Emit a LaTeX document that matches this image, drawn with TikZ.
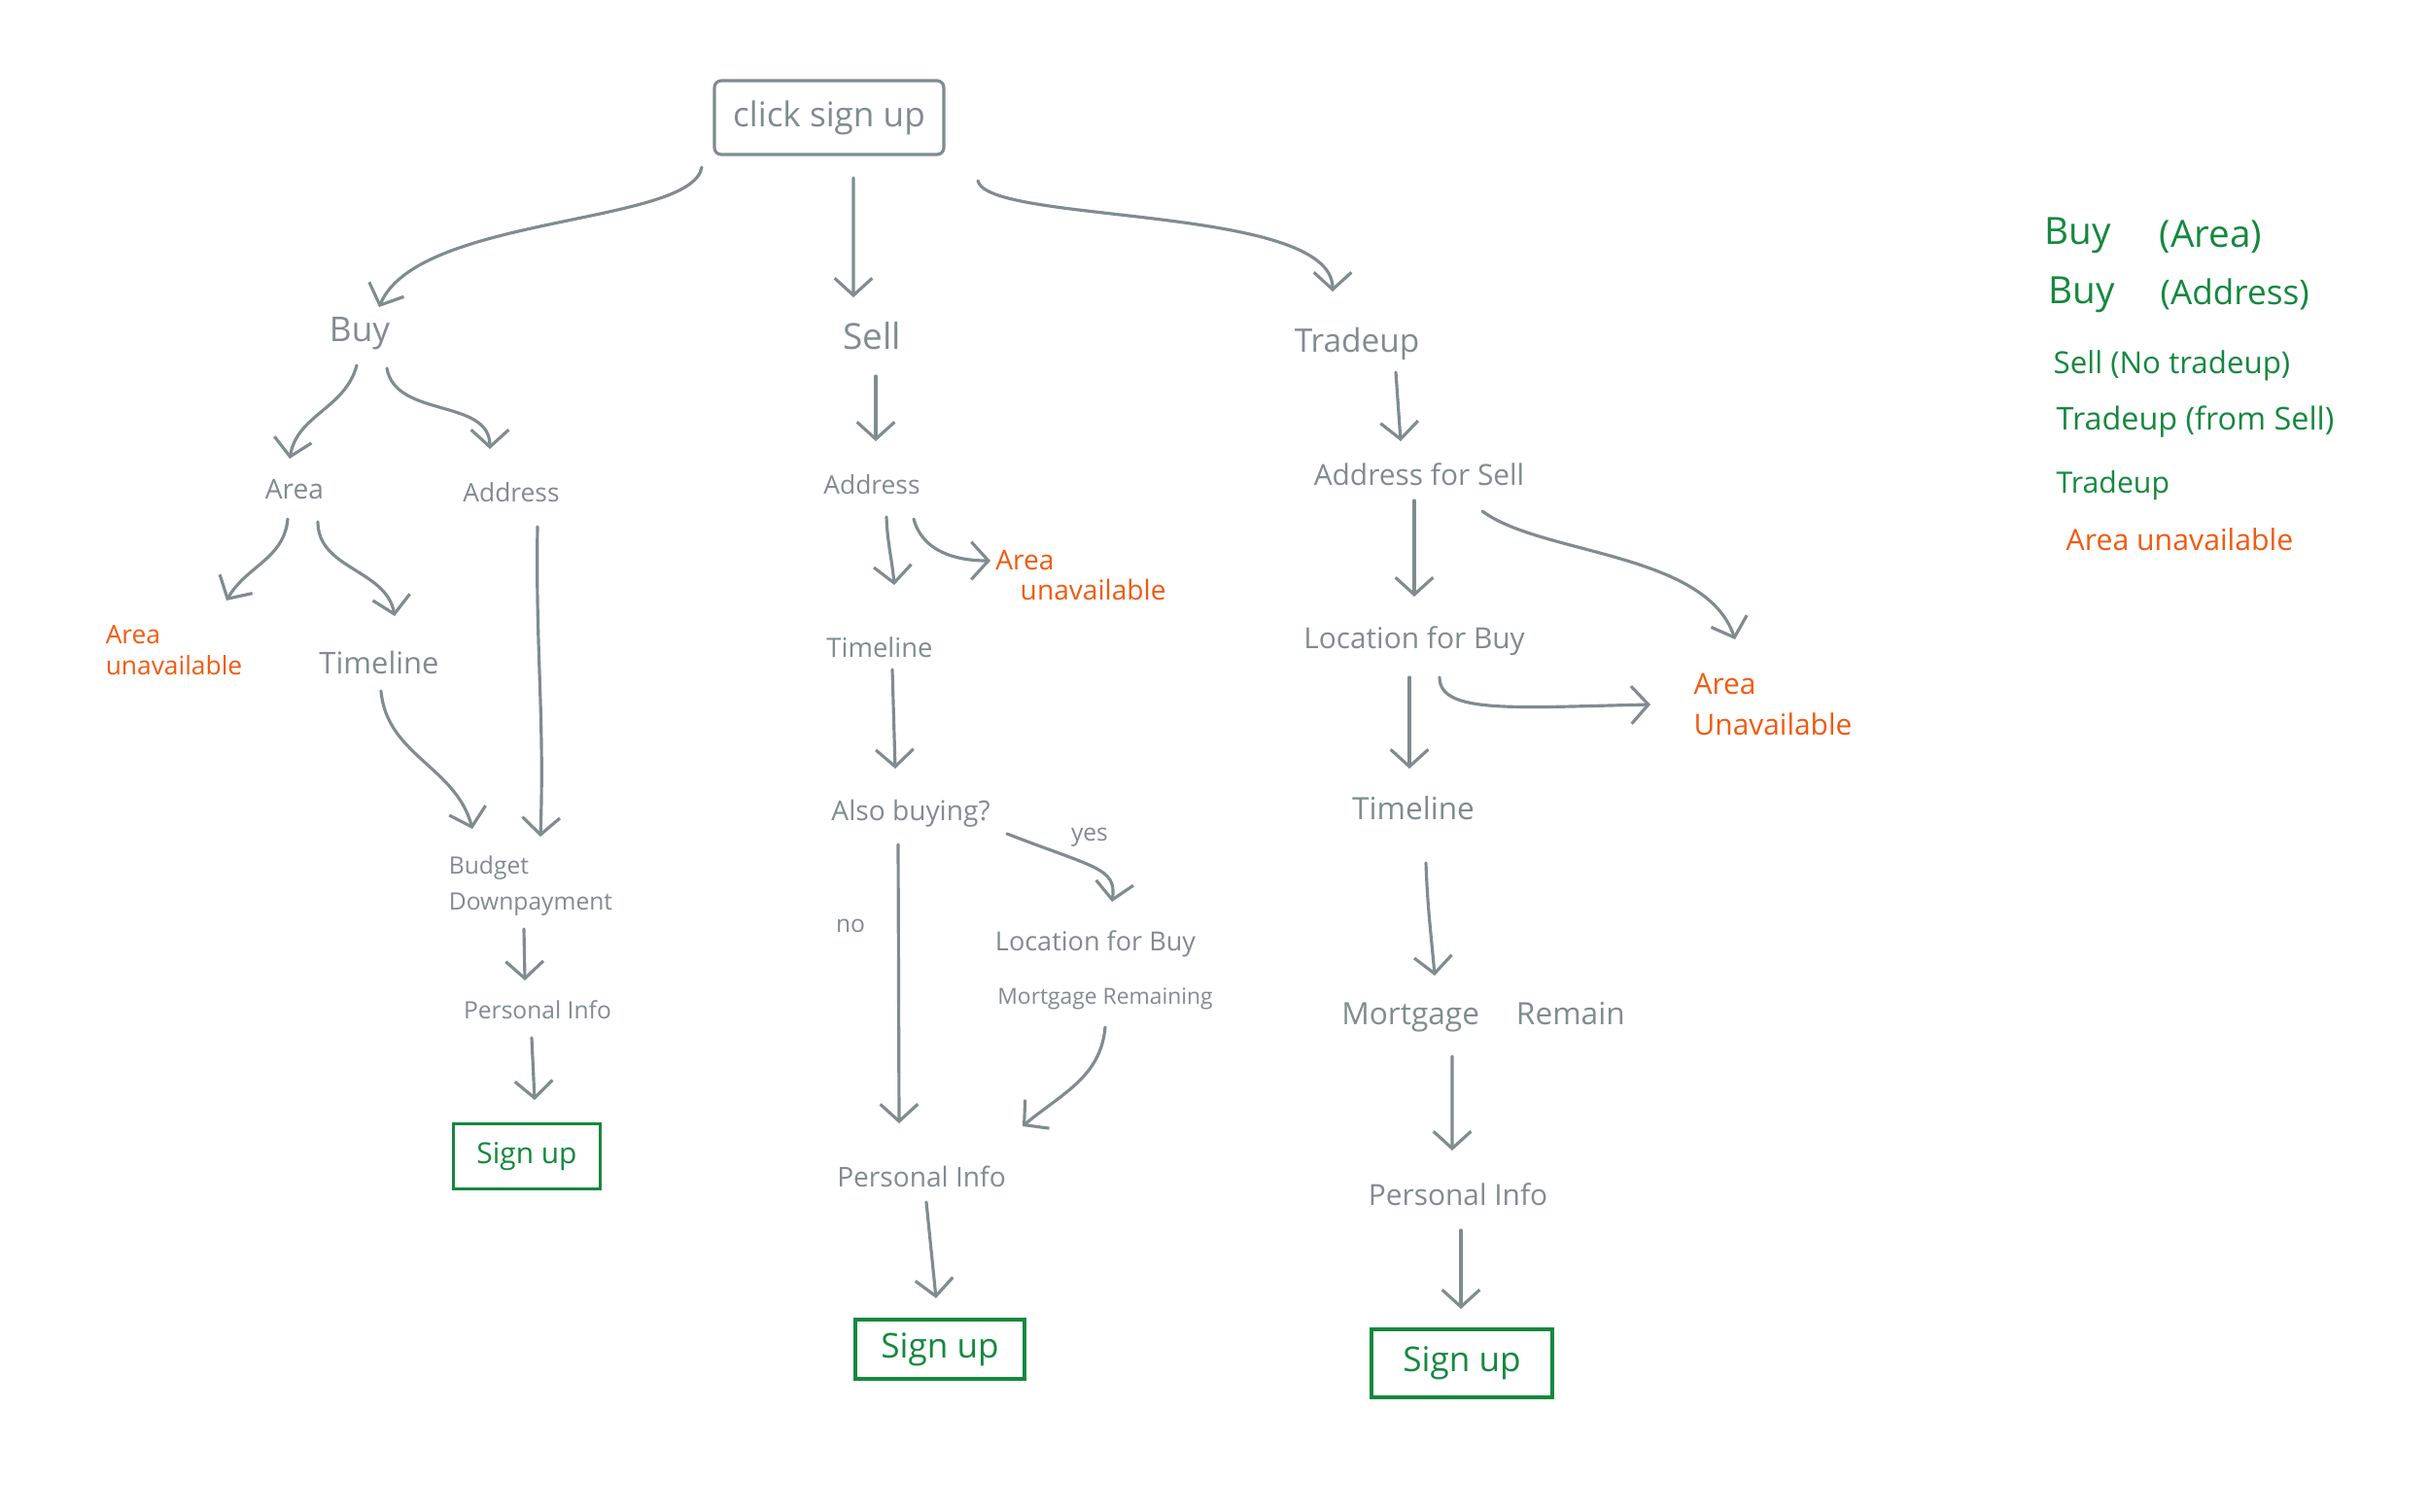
\documentclass[tikz,border=0pt]{standalone}
\usepackage{fontspec}
\setmainfont{Open Sans}
\usetikzlibrary{arrows.meta}
\definecolor{sk}{HTML}{7F8C90}
\definecolor{gr}{HTML}{15883E}
\definecolor{orn}{HTML}{F15A11}
\newcommand\fsz[2]{\fontsize{#1}{#2}\selectfont}
\begin{document}
\begin{tikzpicture}[x=1cm,y=1cm,
  lbl/.style={text=sk, inner sep=1pt},
  olbl/.style={text=orn, inner sep=0pt, align=left},
  glbl/.style={text=gr, inner sep=0pt, anchor=west},
  gbox/.style={draw=gr, text=gr, line width=1pt, inner sep=2pt},
  flow/.style={draw=sk, line width=0.9pt, line cap=round,
    -{Straight Barb[length=5pt,width=11pt]}}]
\fill[white] (0,0) rectangle (25,-15.55);
\useasboundingbox (0,0) rectangle (25,-15.55);

% top
\node[lbl, draw=sk, line width=0.9pt, rounded corners=2pt, minimum width=2.36cm, minimum height=0.76cm, font=\fsz{10pt}{12pt}] (top) at (8.53,-1.21) {click sign up};

% level 1
\node[lbl, font=\fsz{10pt}{12pt}] (buy) at (3.70,-3.43) {Buy};
\node[lbl, font=\fsz{10.5pt}{12pt}] (sell) at (8.97,-3.46) {Sell};
\node[lbl, font=\fsz{9.5pt}{12pt}] (trade) at (13.96,-3.54) {Tradeup};

% buy column
\node[lbl, font=\fsz{8pt}{10pt}] (area) at (3.03,-5.04) {Area};
\node[lbl, font=\fsz{7.5pt}{9pt}] (addr1) at (5.26,-5.07) {Address};
\node[olbl, font=\fsz{7.5pt}{9pt}] (unav1) at (1.79,-6.69) {Area\\unavailable};
\node[lbl, font=\fsz{8.8pt}{10pt}] (time1) at (3.90,-6.82) {Timeline};
\node[lbl, align=left, font=\fsz{7pt}{10.5pt}] (budget) at (5.46,-9.12) {Budget\\Downpayment};
\node[lbl, font=\fsz{7pt}{9pt}] (pers1) at (5.53,-10.39) {Personal Info};
\node[gbox, minimum width=1.51cm, minimum height=0.67cm, font=\fsz{8.5pt}{10pt}] (sign1) at (5.42,-11.90) {Sign up};

% sell column
\node[lbl, font=\fsz{7.5pt}{9pt}] (addr2) at (8.97,-4.99) {Address};
\node[olbl, font=\fsz{8pt}{9pt}] (unav2) at (11.12,-5.92) {Area\\\hspace*{0.9em}unavailable};
\node[lbl, font=\fsz{7.8pt}{9pt}] (time2) at (9.05,-6.66) {Timeline};
\node[lbl, font=\fsz{8pt}{10pt}] (also) at (9.37,-8.37) {Also buying?};
\node[lbl, font=\fsz{7pt}{9pt}] (yes) at (11.21,-8.62) {yes};
\node[lbl, font=\fsz{7pt}{9pt}] (no) at (8.75,-9.53) {no};
\node[lbl, font=\fsz{7.7pt}{9pt}] (loc2) at (11.27,-9.71) {Location for Buy};
\node[lbl, font=\fsz{6.5pt}{8pt}] (mort2) at (11.37,-10.28) {Mortgage Remaining};
\node[lbl, font=\fsz{8pt}{10pt}] (pers2) at (9.48,-12.11) {Personal Info};
\node[gbox, minimum width=1.74cm, minimum height=0.61cm, font=\fsz{10pt}{12pt}] (sign2) at (9.67,-13.885) {Sign up};

% tradeup column
\node[lbl, font=\fsz{8.5pt}{10pt}] (addrsell) at (14.60,-4.88) {Address for Sell};
\node[lbl, font=\fsz{8.5pt}{10pt}] (loc3) at (14.55,-6.60) {Location for Buy};
\node[olbl, font=\fsz{8.5pt}{12pt}] (unav3) at (18.24,-7.25) {Area\\Unavailable};
\node[lbl, font=\fsz{9pt}{10pt}] (time3) at (14.54,-8.32) {Timeline};
\node[lbl, font=\fsz{9pt}{10pt}] (mort3) at (15.26,-10.47) {Mortgage\hspace{1.2em}Remain};
\node[lbl, font=\fsz{8.5pt}{10pt}] (pers3) at (15.00,-12.29) {Personal Info};
\node[gbox, minimum width=1.86cm, minimum height=0.70cm, font=\fsz{10pt}{12pt}] (sign3) at (15.04,-14.03) {Sign up};

% legend
\node[glbl, font=\fsz{11pt}{13pt}] (lg1a) at (21.03,-2.42) {Buy};
\node[glbl, font=\fsz{11pt}{13pt}] (lg1b) at (22.21,-2.44) {(Area)};
\node[glbl, font=\fsz{11pt}{13pt}] (lg2a) at (21.07,-3.03) {Buy};
\node[glbl, font=\fsz{10pt}{13pt}] (lg2b) at (22.22,-3.03) {(Address)};
\node[glbl, font=\fsz{8.9pt}{11pt}] (lg3) at (21.12,-3.76) {Sell (No tradeup)};
\node[glbl, font=\fsz{9.2pt}{11pt}] (lg4) at (21.15,-4.34) {Tradeup (from Sell)};
\node[glbl, font=\fsz{8.6pt}{11pt}] (lg5) at (21.15,-5.00) {Tradeup};
\node[glbl, text=orn, font=\fsz{8.6pt}{11pt}] (lg6) at (21.25,-5.55) {Area unavailable};

% connectors from top
\draw[flow] ([shift={(-1.31,-0.51)}]top.center) .. controls +(-0.1,-0.6) and +(0.4,0.95) .. ([shift={(0.20,0.27)}]buy.center);
\draw[flow] ([shift={(0.25,-0.62)}]top.center) -- ([shift={(-0.19,0.40)}]sell.center);
\draw[flow] ([shift={(1.53,-0.65)}]top.center) .. controls +(0.1,-0.45) and +(0,0.9) .. ([shift={(-0.25,0.54)}]trade.center);

% buy column
\draw[flow] ([shift={(-0.03,-0.33)}]buy.center) to[out=-105,in=80] ([shift={(-0.05,0.32)}]area.center);
\draw[flow] ([shift={(0.28,-0.36)}]buy.center) to[out=-80,in=90] ([shift={(-0.22,0.45)}]addr1.center);
\draw[flow] ([shift={(-0.07,-0.30)}]area.center) to[out=-95,in=60] ([shift={(0.54,0.51)}]unav1.center);
\draw[flow] ([shift={(0.24,-0.33)}]area.center) to[out=-90,in=100] ([shift={(0.16,0.48)}]time1.center);
\draw[flow] ([shift={(0.02,-0.29)}]time1.center) to[out=-85,in=105] ([shift={(-0.60,0.59)}]budget.center);
\draw[flow] ([shift={(0.27,-0.35)}]addr1.center) to[out=-91,in=88] ([shift={(0.10,0.51)}]budget.center);
\draw[flow] ([shift={(-0.07,-0.44)}]budget.center) -- ([shift={(-0.13,0.30)}]pers1.center);
\draw[flow] ([shift={(-0.06,-0.29)}]pers1.center) -- ([shift={(0.08,0.58)}]sign1.center);

% sell column
\draw[flow] ([shift={(0.04,-0.41)}]sell.center) -- ([shift={(0.04,0.45)}]addr2.center);
\draw[flow] ([shift={(0.15,-0.33)}]addr2.center) to[out=-88,in=95] ([shift={(0.15,0.64)}]time2.center);
\draw[flow] ([shift={(0.43,-0.35)}]addr2.center) to[out=-75,in=180] ([shift={(-0.93,0.15)}]unav2.center);
\draw[flow] ([shift={(0.13,-0.23)}]time2.center) -- ([shift={(-0.16,0.46)}]also.center);
\draw[flow] ([shift={(0.99,-0.21)}]also.center) .. controls +(0.9,-0.35) and +(0.05,0.35) .. ([shift={(0.17,0.43)}]loc2.center);
\draw[flow] ([shift={(-0.13,-0.32)}]also.center) -- ([shift={(-0.23,0.55)}]pers2.center);
\draw[flow] ([shift={(0,-0.29)}]mort2.center) to[out=-95,in=40] ([shift={(1.04,0.52)}]pers2.center);
\draw[flow] ([shift={(0.05,-0.26)}]pers2.center) -- ([shift={(-0.04,0.525)}]sign2.center);

% tradeup column
\draw[flow] ([shift={(0.40,-0.29)}]trade.center) -- ([shift={(-0.19,0.34)}]addrsell.center);
\draw[flow] ([shift={(-0.05,-0.27)}]addrsell.center) -- ([shift={(0,0.46)}]loc3.center);
\draw[flow] ([shift={(0.65,-0.38)}]addrsell.center) .. controls +(0.6,-0.45) and +(-0.3,0.9) .. ([shift={(-0.39,0.67)}]unav3.center);
\draw[flow] ([shift={(-0.05,-0.37)}]loc3.center) -- ([shift={(-0.04,0.41)}]time3.center);
\draw[flow] ([shift={(0.26,-0.37)}]loc3.center) .. controls +(0,-0.38) and +(-1.4,-0.03) .. ([shift={(-1.26,0)}]unav3.center);
\draw[flow] ([shift={(0.13,-0.56)}]time3.center) to[out=-88,in=95] ([shift={(-0.50,0.43)}]mort3.center);
\draw[flow] ([shift={(-0.32,-0.40)}]mort3.center) -- ([shift={(-0.06,0.45)}]pers3.center);
\draw[flow] ([shift={(0.03,-0.37)}]pers3.center) -- ([shift={(-0.01,0.56)}]sign3.center);
\end{tikzpicture}
\end{document}
